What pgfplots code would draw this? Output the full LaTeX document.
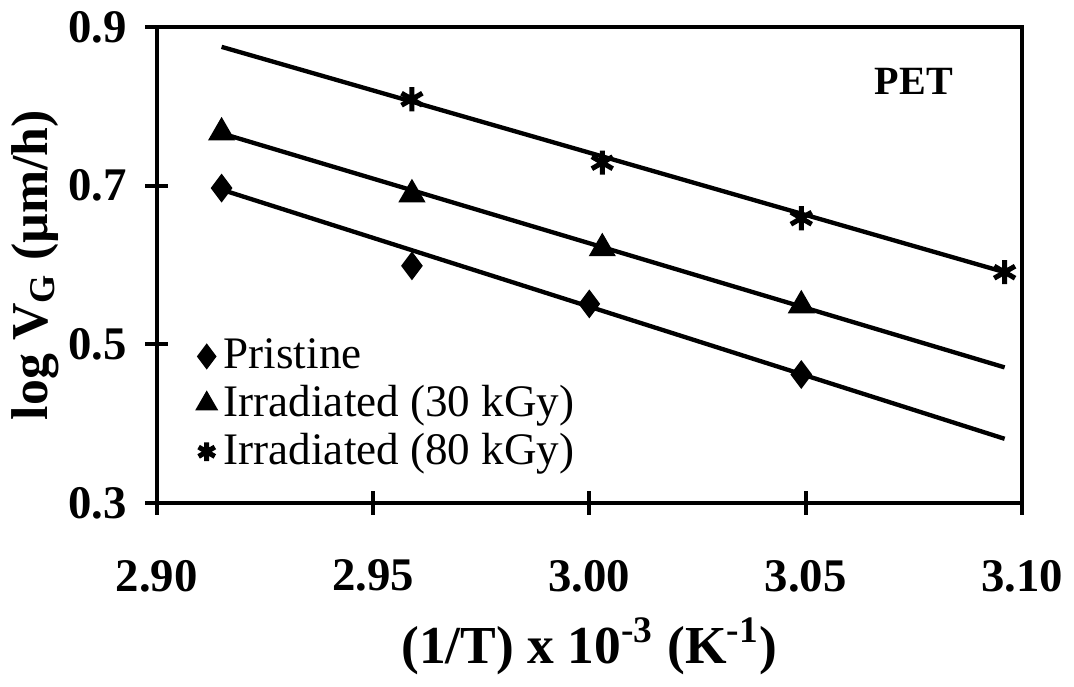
\documentclass[border=0pt]{standalone}
\usepackage{fontspec}
\setmainfont{Liberation Serif}
\usepackage{pgfplots}
\pgfplotsset{compat=1.18}
\pgfplotsset{
  smallmark/.style={legend image code/.code={%
    \draw[mark repeat=2,mark phase=2,##1,mark size=#1] plot coordinates {(0cm,0cm)(0.15cm,0cm)(0.45cm,0cm)};}},
}
\begin{document}
\begin{tikzpicture}
\begin{axis}[
  scale only axis, width=259pt, height=142.5pt,
  xmin=2.90, xmax=3.10, ymin=0.3, ymax=0.9,
  xtick={2.90,2.95,3.00,3.05,3.10}, ytick={0.3,0.5,0.7,0.9},
  xticklabel style={/pgf/number format/.cd, fixed, fixed zerofill, precision=2},
  yticklabel style={/pgf/number format/.cd, fixed, fixed zerofill, precision=1},
  /pgf/number format/assume math mode=true,
  tick label style={font=\bfseries\fontsize{14}{16}\selectfont},
  xticklabel shift=10pt, yticklabel shift=2pt,
  tick align=center, major tick length=7pt,
  xtick pos=bottom, ytick pos=left,
  axis line style={line width=1.2pt},
  every tick/.style={line width=1.2pt, black},
  xlabel={(1/T) x 10\textsuperscript{-3} (K\textsuperscript{-1})},
  ylabel={log V\textsubscript{G} (µm/h)},
  xlabel style={font=\bfseries\fontsize{16}{18}\selectfont, yshift=-1pt},
  ylabel style={font=\bfseries\fontsize{15.5}{17}\selectfont, yshift=-4pt},
  legend style={draw=none, fill=none, at={(0.045,0.36)}, anchor=north west,
    font=\fontsize{13.5}{14}\selectfont, row sep=-0.5pt, inner sep=0pt},
  legend cell align=left,
]
\addplot[only marks, mark=diamond*, mark size=4pt, smallmark=3.6pt]
  coordinates {(2.915,0.697) (2.959,0.599) (3.000,0.551) (3.049,0.462)};
\addlegendentry{Pristine}
\addplot[only marks, mark=triangle*, mark size=4.3pt, smallmark=3.6pt]
  coordinates {(2.915,0.767) (2.959,0.689) (3.003,0.621) (3.049,0.549)};
\addlegendentry{Irradiated (30 kGy)}
\addplot[only marks, mark=asterisk, mark size=3.6pt, mark options={line width=1.5pt}, smallmark=2.8pt]
  coordinates {(2.959,0.809) (3.003,0.729) (3.049,0.659) (3.096,0.591)};
\addlegendentry{Irradiated (80 kGy)}
\addplot[line width=1.3pt, forget plot] coordinates {(2.915,0.695) (3.096,0.381)};
\addplot[line width=1.3pt, forget plot] coordinates {(2.915,0.766) (3.096,0.471)};
\addplot[line width=1.3pt, forget plot] coordinates {(2.915,0.875) (3.096,0.591)};
\node[font=\bfseries\fontsize{12}{14}\selectfont] at (axis cs:3.075,0.832) {PET};
\end{axis}
\end{tikzpicture}
\end{document}
